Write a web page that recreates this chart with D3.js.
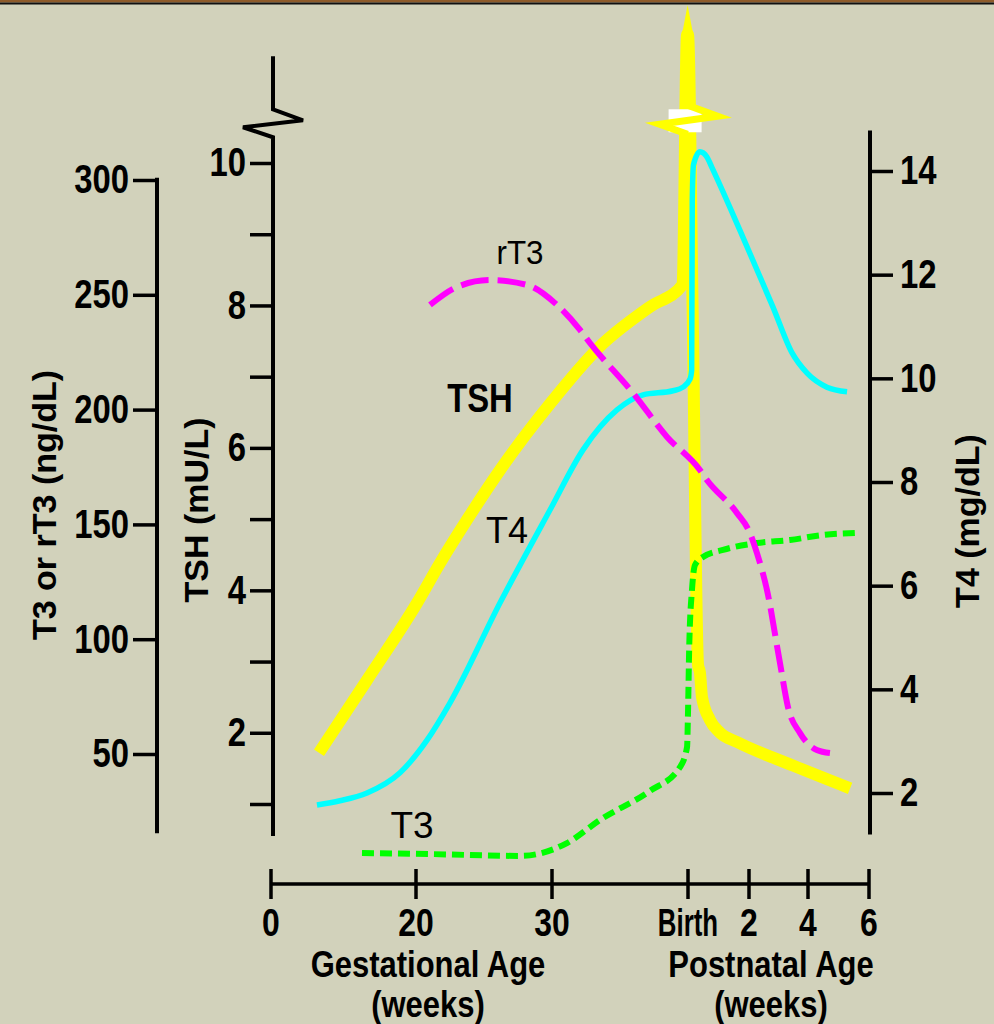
<!DOCTYPE html>
<html><head><meta charset="utf-8">
<script src="https://cdn.jsdelivr.net/npm/d3@7"></script>
<style>body{margin:0;background:#d2d2bb;} svg{display:block}</style>
</head><body>
<script>
// ---------- data ----------
const xTickValues = [0, 20, 30, 40, 42, 44, 46];          // gestational weeks; postnatal = 40 + weeks
const xTickLabels = ["0", "20", "30", "Birth", "2", "4", "6"];
const t3Ticks = [50, 100, 150, 200, 250, 300];
const tshTicks = [1, 2, 3, 4, 5, 6, 7, 8, 9, 10];
const t4Ticks = [2, 4, 6, 8, 10, 12, 14];

const tshAge = [6.62, 13.24, 20.07, 21.76, 23.75, 26.18, 29.9, 33.5, 37.2, 39.6, 39.93, 40.0, 40.15, 40.33, 40.39, 40.46, 40.72, 41.05, 41.61, 43.49, 45.38];
const tshVal = [1.72, 2.74, 3.82, 4.38, 4.99, 5.69, 6.63, 7.42, 7.98, 8.29, 11.8, 11.8, 8.0, 2.95, 2.85, 2.5, 2.18, 2.0, 1.87, 1.54, 1.22];

const t4Age = [6.34, 9.5, 13.24, 17.79, 20.81, 22.5, 26.18, 29.85, 32.28, 34.78, 36.69, 38.9, 39.63, 40.07, 40.12, 40.14, 40.18, 40.39, 40.62, 40.79, 41.7, 42.81, 43.46, 43.97, 44.62, 45.28];
const t4Val = [1.77, 1.85, 2.0, 2.39, 3.02, 3.74, 5.67, 7.46, 8.62, 9.39, 9.68, 9.76, 9.83, 9.99, 10.16, 13.44, 14.12, 14.37, 14.27, 14.06, 12.86, 11.38, 10.49, 10.10, 9.83, 9.74];

const rt3Age = [21.03, 23.01, 25.44, 28.16, 30.37, 32.06, 32.79, 35.96, 38.46, 40.39, 40.62, 41.61, 42.03, 42.27, 42.61, 43.05, 43.32, 43.73, 44.29, 44.72];
const rt3Val = [245.6, 253.4, 256.4, 254.3, 245.6, 234.7, 229.0, 207.2, 188.1, 173.7, 169.3, 154.9, 146.3, 137.5, 121.4, 89.6, 70.5, 59.1, 51.7, 50.4];

const t3Age = [12.55, 21.25, 27.65, 31.1, 33.53, 37.2, 39.41, 39.93, 40.0, 40.04, 40.13, 40.23, 40.49, 41.15, 42.27, 43.39, 44.49, 45.61];
const t3Val = [6.9, 6.4, 5.6, 11.2, 21.3, 33.9, 44.3, 53.0, 67.9, 96.6, 121.4, 132.3, 135.8, 138.9, 141.9, 143.2, 145.4, 146.3];

const t3AxisExtent = [15.5, 301];
const tshAxisExtent = [0.55, 11.5];
const tshBreak = 10.6;
const t4AxisExtent = [1.2, 14.78];
const tshPeak = 11.8, tshTip = 12.22, tshSpikeAge = 39.97;

// ---------- setup ----------
const W = 994, H = 1024;
const svg = d3.select("body").append("svg").attr("width", W).attr("height", H);
svg.append("rect").attr("width", W).attr("height", H).attr("fill", "#d2d2bb");
svg.append("rect").attr("width", W).attr("height", 2.5).attr("fill", "#8e5b2a");
svg.append("rect").attr("y", 2.5).attr("width", W).attr("height", 2).attr("fill", "#111");

const SANS = "'Liberation Sans',Arial,sans-serif";

// condense a text horizontally (the original uses a narrow bold face)
function condense(sel, k) {
  sel.each(function () {
    const w = this.getComputedTextLength();
    if (w > 0) d3.select(this).attr("textLength", w * k).attr("lengthAdjust", "spacingAndGlyphs");
  });
}

const x = d3.scaleLinear().domain(xTickValues).range([271, 416, 552, 688, 749, 808, 869]);
const yTSH = d3.scaleLinear().domain([1, 10]).range([804, 163]);
const yT3 = d3.scaleLinear().domain([50, 300]).range([754, 180]);
const yT4 = d3.scaleLinear().domain([2, 14]).range([793, 171]);

function styleAxis(g) {
  g.select(".domain").remove();
  g.selectAll(".tick line").attr("stroke", "#000").attr("stroke-width", 3.5);
  const t = g.selectAll(".tick text").attr("fill", "#000").style("font-family", SANS)
    .style("font-weight", "bold").style("font-size", "40px");
  condense(t, 0.82);
}

// T3 / rT3 axis
const gT3 = svg.append("g").attr("transform", "translate(157,0)")
  .call(d3.axisLeft(yT3).tickValues(t3Ticks).tickSize(24).tickPadding(4));
styleAxis(gT3);
gT3.append("line").attr("y1", yT3(t3AxisExtent[0])).attr("y2", yT3(t3AxisExtent[1]))
  .attr("stroke", "#000").attr("stroke-width", 4);

// TSH axis
const gTSH = svg.append("g").attr("transform", "translate(273,0)")
  .call(d3.axisLeft(yTSH).tickValues(tshTicks).tickSize(23).tickPadding(4)
    .tickFormat(d => d % 2 === 0 ? d : ""));
styleAxis(gTSH);
const by = yTSH(tshBreak);
gTSH.append("path")
  .attr("d", d3.line()([[0, yTSH(tshAxisExtent[1])], [0, by - 11], [30, by], [-30, by + 7], [0, by + 17], [0, yTSH(tshAxisExtent[0])]]))
  .attr("fill", "none").attr("stroke", "#000").attr("stroke-width", 4).attr("stroke-linejoin", "miter");

// T4 axis
const gT4 = svg.append("g").attr("transform", "translate(870,0)")
  .call(d3.axisRight(yT4).tickValues(t4Ticks).tickSize(23).tickPadding(7));
styleAxis(gT4);
gT4.append("line").attr("y1", yT4(t4AxisExtent[0])).attr("y2", yT4(t4AxisExtent[1]))
  .attr("stroke", "#000").attr("stroke-width", 4);

// X axis
const xAxisY = 884;
const gX = svg.append("g");
gX.append("line").attr("x1", x(xTickValues[0])).attr("x2", x(xTickValues[xTickValues.length - 1]))
  .attr("y1", xAxisY).attr("y2", xAxisY).attr("stroke", "#000").attr("stroke-width", 3.5);
xTickValues.forEach((v, i) => {
  gX.append("line").attr("x1", x(v)).attr("x2", x(v)).attr("y1", xAxisY - 15).attr("y2", xAxisY + 15)
    .attr("stroke", "#000").attr("stroke-width", 3.5);
  const t = gX.append("text").attr("x", x(v)).attr("y", 936).attr("text-anchor", "middle")
    .style("font-family", SANS).style("font-weight", "bold").style("font-size", "38px")
    .text(xTickLabels[i]);
  condense(t, xTickLabels[i] === "Birth" ? 0.68 : 0.84);
});
[["Gestational Age", 428, 977], ["(weeks)", 428, 1017], ["Postnatal Age", 771, 977], ["(weeks)", 771, 1017]]
  .forEach(([s, cx, cy]) => {
    const t = gX.append("text").attr("x", cx).attr("y", cy).attr("text-anchor", "middle")
      .style("font-family", SANS).style("font-weight", "bold").style("font-size", "36px").text(s);
    condense(t, 0.86);
  });

// axis titles
function vTitle(t, cx, cy) {
  svg.append("text").attr("transform", `translate(${cx},${cy}) rotate(-90)`).attr("text-anchor", "middle")
    .attr("dy", "0.35em").style("font-family", SANS).style("font-weight", "bold").style("font-size", "34px").text(t);
}
vTitle("T3 or rT3 (ng/dL)", 44, 505);
vTitle("TSH (mU/L)", 196, 510);
vTitle("T4 (mg/dL)", 967, 521);

// ---------- curves ----------
const zip = (a, b) => a.map((v, i) => [v, b[i]]);
const lineOf = ys => d3.line().x(d => x(d[0])).y(d => ys(d[1])).curve(d3.curveMonotoneX);

// TSH
const yellow = "#ffff00";
svg.append("path").attr("d", lineOf(yTSH)(zip(tshAge, tshVal)))
  .attr("fill", "none").attr("stroke", yellow).attr("stroke-width", 12).attr("stroke-linejoin", "round");
const sx = x(tshSpikeAge);
svg.append("path").attr("d", d3.line()([[sx - 6, yTSH(tshPeak) + 2], [sx + 6, yTSH(tshPeak) + 2], [sx, yTSH(tshTip)]]) + "Z")
  .attr("fill", yellow);
svg.append("rect").attr("x", sx - 19).attr("y", by - 11).attr("width", 33).attr("height", 23).attr("fill", "#fff");
svg.append("path").attr("d", d3.line()([[sx, by - 15], [sx + 30, by - 4], [sx - 28, by + 4], [sx, by + 14]]))
  .attr("fill", "none").attr("stroke", yellow).attr("stroke-width", 7).attr("stroke-linejoin", "miter").attr("stroke-miterlimit", 8);

// T4
svg.append("path").attr("d", lineOf(yT4)(zip(t4Age, t4Val)))
  .attr("fill", "none").attr("stroke", "#00ffff").attr("stroke-width", 5.5).attr("stroke-linejoin", "round");
// T3
svg.append("path").attr("d", lineOf(yT3)(zip(t3Age, t3Val)))
  .attr("fill", "none").attr("stroke", "#00ff00").attr("stroke-width", 6).attr("stroke-dasharray", "12,6");
// rT3
svg.append("path").attr("d", lineOf(yT3)(zip(rt3Age, rt3Val)))
  .attr("fill", "none").attr("stroke", "#ff00ff").attr("stroke-width", 6).attr("stroke-dasharray", "28,9");

// series labels
function lab(t, cx, cy, size, weight, k) {
  const s = svg.append("text").attr("x", cx).attr("y", cy).attr("text-anchor", "middle")
    .style("font-family", SANS).style("font-weight", weight).style("font-size", size + "px").text(t);
  if (k) condense(s, k);
}
lab("rT3", 520, 264, 33, "normal", 0.95);
lab("TSH", 480, 412, 40, "bold", 0.82);
lab("T4", 507, 543, 36, "normal");
lab("T3", 412, 838, 37, "normal");
</script>
</body></html>
